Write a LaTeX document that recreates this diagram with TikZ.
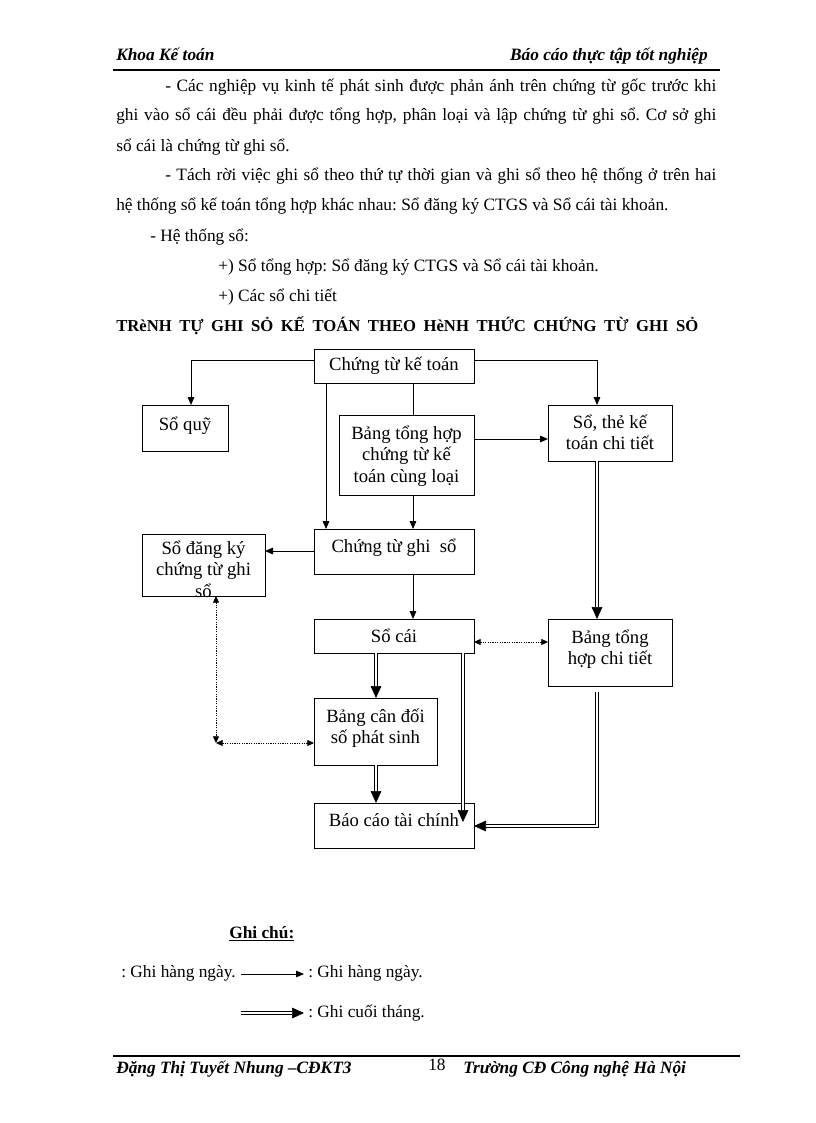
\documentclass[tikz,border=0pt]{standalone}
\usepackage{fontspec}
\setmainfont{Liberation Serif}
\usetikzlibrary{arrows.meta}
\frenchspacing
\newcommand\mybox[7]{%
  \node[box, minimum width={(#4-#2)*0.75pt}, minimum height={(#5-#3)*0.75pt}] (#1) at (#2,#3) {};
  \node[btxt] (#1-t) at ([yshift=#6*0.75pt]#1.center) {#7};}
\begin{document}
\begin{tikzpicture}[x=0.75pt,y=-0.75pt,
  box/.style={draw, line width=0.6pt, inner sep=0pt, outer sep=0pt, anchor=north west},
  btxt/.style={inner sep=0pt, align=center, font=\fontsize{14}{16}\selectfont},
  txt/.style={anchor=base west, inner sep=0pt, font=\fontsize{13}{15}\selectfont},
  bi/.style={font=\fontsize{13}{15}\selectfont\bfseries\itshape},
  arr/.style={line width=0.6pt, -{Triangle[length=6pt,width=5pt]}},
  ln/.style={line width=0.6pt},
  dbl/.style={double, double distance=1.5pt, line width=0.5pt, -{Triangle[length=9pt,width=8pt]}},
  dot/.style={line width=0.6pt, dash pattern=on 0.8pt off 1pt, {Triangle[length=5pt,width=4.5pt]}-{Triangle[length=5pt,width=4.5pt]}}]

\useasboundingbox[fill=white] (0,0) rectangle (816,1123);

% header
\node[txt, bi, anchor=base west, inner sep=0pt] (hl) at (116,61) {Khoa Kế toán};
\node[bi, anchor=base east, inner sep=0pt] (hr) at (708,61) {Báo cáo thực tập tốt nghiệp};
\draw[line width=1.5pt] (113,70) -- (720,70);

% body text
\node[txt] (p1) at (165,92) {\makebox[413.25pt][s]{- Các nghiệp vụ kinh tế phát sinh được phản ánh trên chứng từ gốc trước khi}};
\node[txt] (p2) at (116,121) {\makebox[450pt][s]{ghi vào sổ cái đều phải được tổng hợp, phân loại và lập chứng từ ghi sổ. Cơ sở ghi}};
\node[txt] (p3) at (116,152) {sổ cái là chứng từ ghi sổ.};
\node[txt] (p4) at (165,181) {\makebox[413.25pt][s]{- Tách rời việc ghi sổ theo thứ tự thời gian và ghi sổ theo hệ thống ở trên hai}};
\node[txt] (p5) at (116,211) {hệ thống sổ kế toán tổng hợp khác nhau: Sổ đăng ký CTGS và Sổ cái tài khoản.};
\node[txt] (p6) at (150,241) {- Hệ thống sổ:};
\node[txt] (p7) at (218,271) {+) Sổ tổng hợp: Sổ đăng ký CTGS và Sổ cái tài khoản.};
\node[txt] (p8) at (218,301) {+) Các sổ chi tiết};

% title
\node[txt, font=\fontsize{12.5}{15}\selectfont\bfseries] (title) at (116,331) {\makebox[436.5pt][s]{TRèNH TỰ GHI SỎ KẾ TOÁN THEO HèNH THỨC CHỨNG TỪ GHI SỎ}};

% boxes
\mybox{ctkt}{314}{349}{474}{383}{0}{Chứng từ kế toán}
\mybox{sq}{142}{405}{228}{451}{2}{Sổ quỹ}
\mybox{bth}{339}{415}{474}{495}{-1}{Bảng tổng hợp\\chứng từ kế\\toán cùng loại}
\mybox{stkt}{548}{405}{672}{461}{1}{Sổ, thẻ kế\\toán chi tiết}
\begin{scope}
\clip (130,520) rectangle (280,597);
\mybox{sdk}{142}{534}{265}{596}{-4}{Sổ đăng ký\\chứng từ ghi\\sổ}
\end{scope}
\mybox{ctgs}{314}{529}{474}{574}{4}{Chứng từ ghi\ \ sổ}
\mybox{sc}{314}{619}{474}{653}{0}{Sổ cái}
\mybox{bthct}{548}{619}{672}{686}{3}{Bảng tổng\\hợp chi tiết}
\mybox{bcd}{314}{698}{437}{765}{3}{Bảng cân đối\\số phát sinh}
\mybox{bctc}{314}{803}{474}{848}{5}{Báo cáo tài chính}

% helper coordinates
\coordinate (xs) at (191,0);
\coordinate (xa) at (326,0);
\coordinate (xb) at (413,0);
\coordinate (xc) at (597,0);
\coordinate (xd) at (376,0);
\coordinate (xe) at (463,0);
\coordinate (xf) at (216,0);
\coordinate (ya) at (0,360);
\coordinate (yb) at (0,439);
\coordinate (yc) at (0,551);
\coordinate (yd) at (0,642);
\coordinate (yf) at (0,826);
\coordinate (e13) at (463,822);
\coordinate (corner) at (216,743);

% connectors
\draw[arr] (ctkt.west |- ya) -| (sq.north -| xs);
\draw[arr] (ctkt.east |- ya) -| (stkt.north -| xc);
\draw[arr] (ctkt.south -| xa) -- (ctgs.north -| xa);
\draw[ln] (ctkt.south -| xb) -- (bth.north -| xb);
\draw[arr] (bth.south -| xb) -- (ctgs.north -| xb);
\draw[arr] (bth.east |- yb) -- (stkt.west |- yb);
\draw[dbl] (stkt.south -| xc) -- (bthct.north -| xc);
\draw[arr] (ctgs.west |- yc) -- (sdk.east |- yc);
\draw[arr] (ctgs.south -| xb) -- (sc.north -| xb);
\draw[dot] (sc.east |- yd) -- (bthct.west |- yd);
\draw[dbl] (sc.south -| xd) -- (bcd.north -| xd);
\draw[dbl] (bcd.south -| xd) -- (bctc.north -| xd);
\draw[dbl] (sc.south -| xe) -- (e13);
\draw[dbl] ([yshift=-4.5pt]bthct.south -| xc) |- (bctc.east |- yf);
\draw[dot] (sdk.south -| xf) -- (corner);
\draw[dot] (corner) -- (bcd.west |- corner);

% legend
\node[txt, font=\fontsize{13}{15}\selectfont\bfseries] (gc) at (229,938) {\underline{Ghi chú:}};
\node[txt] (l1) at (121,977) {: Ghi hàng ngày.};
\node[txt] (l2) at (308,977) {: Ghi hàng ngày.};
\node[txt] (l3) at (308,1017) {: Ghi cuối tháng.};
\coordinate (la) at (241,974);
\coordinate (lb) at (241,1013);
\draw[arr] (la) -- ([xshift=-3pt]l2.west |- la);
\draw[dbl] (lb) -- ([xshift=-3pt]l3.west |- lb);

% footer
\draw[line width=0.8pt] (113,1056) -- (740,1056);
\node[txt, bi] (f1) at (116,1073) {Đặng Thị Tuyết Nhung –CĐKT3};
\node[txt] (f2) at (428,1070) {18};
\node[txt, bi] (f3) at (463,1073) {Trường CĐ Công nghệ Hà Nội};
\end{tikzpicture}
\end{document}
